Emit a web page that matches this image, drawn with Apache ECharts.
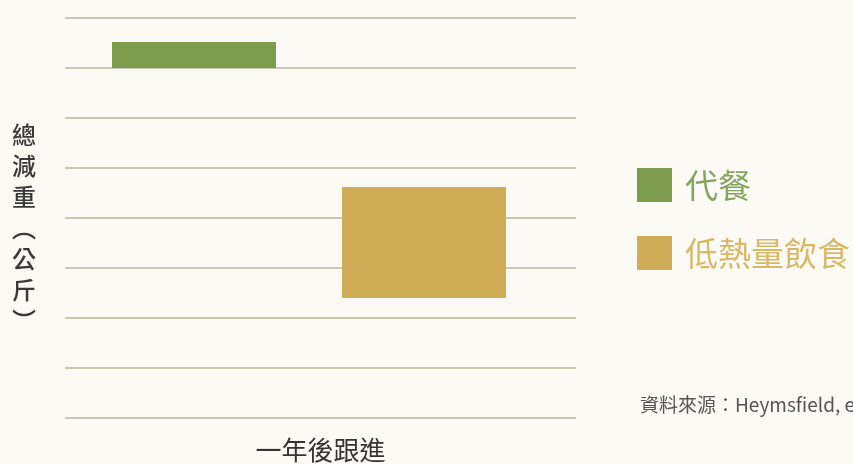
<!DOCTYPE html>
<html>
<head>
<meta charset="utf-8">
<script src="https://cdn.jsdelivr.net/npm/echarts@6/dist/echarts.min.js"></script>
<style>
html,body{margin:0;padding:0;background:#fbfaf5;}
#c{width:853px;height:464px;}
</style>
</head>
<body>
<div id="c"></div>
<script>
// Data
const groupLabel = ['一年後跟進'];
const seriesNames = ['代餐', '低熱量飲食'];
const lowValues = [0.48, 3.38];   // top of floating bar (kg, axis inverted)
const highValues = [1.0, 5.6];    // bottom of floating bar
const yTicks = [0, 1, 2, 3, 4, 5, 6, 7, 8];
const yTitle = '總減重（公斤）';
const sourceNote = '資料來源：Heymsfield, et al.';

const colors = ['#7d9c4e', '#d0ac57'];
const textColors = ['#87a462', '#d9b967'];
const FONT = '"Noto Sans CJK TC", "Noto Sans", sans-serif';

const chart = echarts.init(document.getElementById('c'));

const seriesList = [{
  name: 'base', type: 'bar', stack: 'r', xAxisIndex: 1, yAxisIndex: 1,
  data: lowValues.slice(), barWidth: 164, itemStyle: { color: 'transparent' },
  silent: true, legendHoverLink: false
}];
seriesNames.forEach((n, i) => {
  const d = lowValues.map((v, j) => j === i ? +(highValues[j] - lowValues[j]).toFixed(3) : '-');
  seriesList.push({
    name: n, type: 'bar', stack: 'r', xAxisIndex: 1, yAxisIndex: 1,
    data: d, barWidth: 164, itemStyle: { color: colors[i] }
  });
});

const vertTitle = yTitle.replace('（', '︵').replace('）', '︶').split('').join('\n');

chart.setOption({
  backgroundColor: '#fbfaf5',
  animation: false,
  textStyle: { fontFamily: FONT },
  grid: [
    { left: 65, right: 277, top: 18, bottom: 46 },
    { left: 79, right: 314, top: 18, bottom: 46 }
  ],
  xAxis: [
    { type: 'category', gridIndex: 0, data: groupLabel,
      axisLine: { show: false }, axisTick: { show: false },
      axisLabel: { fontSize: 26, color: '#333', margin: 19, fontFamily: FONT } },
    { type: 'category', gridIndex: 1, data: seriesNames, show: false }
  ],
  yAxis: [
    { type: 'value', gridIndex: 0, inverse: true, min: yTicks[0], max: yTicks[yTicks.length - 1], interval: 1,
      axisLine: { show: false }, axisTick: { show: false }, axisLabel: { show: false },
      splitLine: { lineStyle: { color: '#c9c9b2', width: 2 } } },
    { type: 'value', gridIndex: 1, inverse: true, min: yTicks[0], max: yTicks[yTicks.length - 1], interval: 1,
      show: false, splitLine: { show: false } }
  ],
  legend: {
    orient: 'vertical', left: 637, top: 168, icon: 'rect', padding: 0,
    itemWidth: 35, itemHeight: 34, itemGap: 34,
    data: seriesNames.map((n, i) => ({ name: n, textStyle: { color: textColors[i] } })),
    textStyle: { fontSize: 33, lineHeight: 34, fontFamily: FONT, padding: [0, 0, 0, 8] }
  },
  graphic: [
    { type: 'text', left: 12, top: 119,
      style: { text: vertTitle, fontSize: 24, lineHeight: 31, fill: '#3a3a3a', fontFamily: FONT, fontWeight: 500, align: 'center' } },
    { type: 'text', left: 640, top: 395,
      style: { text: sourceNote, fontSize: 19, fill: '#555', fontFamily: FONT } }
  ],
  series: seriesList
});
</script>
</body>
</html>
